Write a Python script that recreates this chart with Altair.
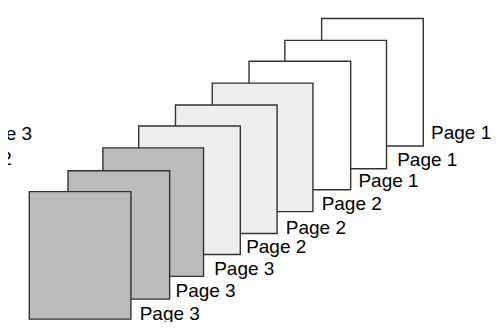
import altair as alt
import pandas as pd

# Pages listed from back (top-right) to front (bottom-left)
labels = ["Page 1", "Page 1", "Page 1", "Page 2", "Page 2", "Page 2", "Page 3", "Page 3", "Page 3"]
group = ["white", "white", "white", "light", "light", "light", "dark", "dark", "dark"]
left = [324, 286, 249, 211, 173, 135, 98, 62, 22]
right = [429, 391, 354, 315, 278, 240, 202, 167, 127]
top = [11, 34, 56, 79, 102, 124, 147, 171, 193]
bottom = [145, 169, 191, 214, 237, 259, 282, 306, 327]
label_x = [437, 402, 362, 324, 287, 246, 213, 173, 136]
label_y = [138, 166, 188, 212, 237, 258, 281, 304, 328]

# labels clipped at the far left edge
side_labels = ["Page 3", "Page 2"]
side_x = [25, 4]
side_y = [139, 165]

pages = pd.DataFrame({
    "label": labels, "group": group, "x0": left, "x1": right,
    "y0": top, "y1": bottom, "lx": label_x, "ly": label_y,
})
side = pd.DataFrame({"label": side_labels, "x": side_x, "y": side_y})

W, H = 484, 314
xs = alt.Scale(domain=[0, 500], nice=False, zero=False)
ys = alt.Scale(domain=[0, 330], nice=False, zero=False, reverse=True)

fill_scale = alt.Scale(domain=["white", "light", "dark"],
                       range=["#ffffff", "#eeeeee", "#bbbbbb"])

rects = alt.Chart(pages).mark_rect(stroke="#333333", strokeWidth=1.4).encode(
    x=alt.X("x0:Q", scale=xs, axis=None),
    x2="x1:Q",
    y=alt.Y("y0:Q", scale=ys, axis=None),
    y2="y1:Q",
    fill=alt.Fill("group:N", scale=fill_scale, legend=None),
)

text = alt.Chart(pages).mark_text(
    align="left", baseline="alphabetic", font="Liberation Sans",
    fontSize=19, color="#000000"
).encode(
    x=alt.X("lx:Q", scale=xs, axis=None),
    y=alt.Y("ly:Q", scale=ys, axis=None),
    text="label:N",
)

side_text = alt.Chart(side).mark_text(
    align="right", baseline="alphabetic", font="Liberation Sans",
    fontSize=19, color="#000000"
).encode(
    x=alt.X("x:Q", scale=xs, axis=None),
    y=alt.Y("y:Q", scale=ys, axis=None),
    text="label:N",
)

chart = alt.layer(rects, text, side_text).properties(
    width=W, height=H, padding=0,
    autosize=alt.AutoSizeParams(type="none"),
).configure_view(stroke=None)

chart.save("out.html", embed_options={"renderer": "svg", "actions": False})
